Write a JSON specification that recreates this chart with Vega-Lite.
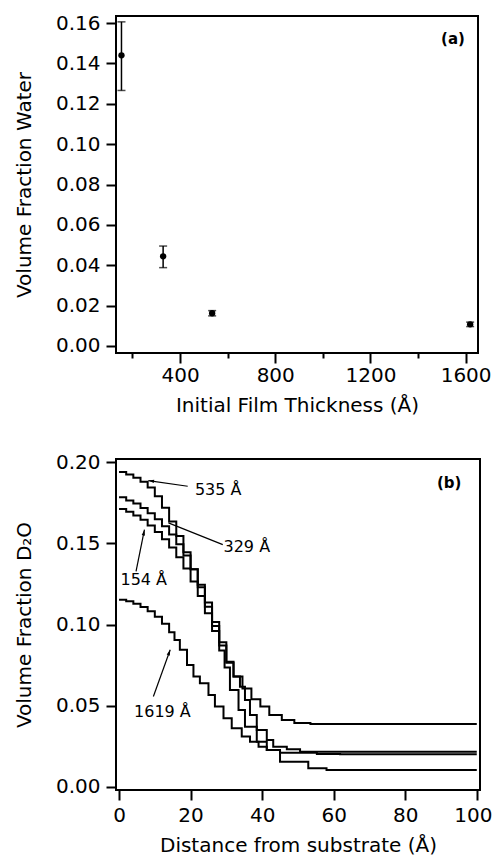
{
  "$schema": "https://vega.github.io/schema/vega-lite/v6.json",
  "background": "white",
  "padding": {"left": 13, "top": 12, "right": 0, "bottom": 0},
  "spacing": 35,
  "config": {
    "view": {"stroke": "black", "strokeWidth": 2},
    "axis": {
      "grid": false, "domain": false,
      "labelFont": "DejaVu Sans", "labelFontSize": 20, "labelColor": "black",
      "titleFont": "DejaVu Sans", "titleFontSize": 20, "titleColor": "black", "titleFontWeight": "normal",
      "tickColor": "black", "tickWidth": 2, "labelPadding": 6
    }
  },
  "datasets": {
    "water": [
      {"t": 154, "w": 0.144, "lo": 0.1266, "hi": 0.1606},
      {"t": 329, "w": 0.0444, "lo": 0.0388, "hi": 0.0495},
      {"t": 535, "w": 0.0162, "lo": 0.0149, "hi": 0.0175},
      {"t": 1619, "w": 0.0107, "lo": 0.0096, "hi": 0.0118}
    ],
    "profiles": [
      {"film": "535 Å", "d": 0, "v": 0.194},
      {"film": "535 Å", "d": 2, "v": 0.1925},
      {"film": "535 Å", "d": 4, "v": 0.1905},
      {"film": "535 Å", "d": 6, "v": 0.188},
      {"film": "535 Å", "d": 8, "v": 0.1845},
      {"film": "535 Å", "d": 10, "v": 0.179},
      {"film": "535 Å", "d": 12, "v": 0.172},
      {"film": "535 Å", "d": 14, "v": 0.1635},
      {"film": "535 Å", "d": 16, "v": 0.1545},
      {"film": "535 Å", "d": 18, "v": 0.1445},
      {"film": "535 Å", "d": 20, "v": 0.134},
      {"film": "535 Å", "d": 22, "v": 0.123},
      {"film": "535 Å", "d": 24, "v": 0.111},
      {"film": "535 Å", "d": 26, "v": 0.099},
      {"film": "535 Å", "d": 28, "v": 0.087},
      {"film": "535 Å", "d": 30, "v": 0.077},
      {"film": "535 Å", "d": 32, "v": 0.068},
      {"film": "535 Å", "d": 34.5, "v": 0.0605},
      {"film": "535 Å", "d": 37, "v": 0.054},
      {"film": "535 Å", "d": 39.5, "v": 0.0494},
      {"film": "535 Å", "d": 42, "v": 0.0443},
      {"film": "535 Å", "d": 45.5, "v": 0.0412},
      {"film": "535 Å", "d": 49, "v": 0.0393},
      {"film": "535 Å", "d": 53.5, "v": 0.0387},
      {"film": "535 Å", "d": 100, "v": 0.0387},
      {"film": "329 Å", "d": 0, "v": 0.1784},
      {"film": "329 Å", "d": 2, "v": 0.1765},
      {"film": "329 Å", "d": 4, "v": 0.1745},
      {"film": "329 Å", "d": 6, "v": 0.1718},
      {"film": "329 Å", "d": 8, "v": 0.1685},
      {"film": "329 Å", "d": 10, "v": 0.1648},
      {"film": "329 Å", "d": 12, "v": 0.1605},
      {"film": "329 Å", "d": 14, "v": 0.1555},
      {"film": "329 Å", "d": 16, "v": 0.1495},
      {"film": "329 Å", "d": 18, "v": 0.1425},
      {"film": "329 Å", "d": 20, "v": 0.134},
      {"film": "329 Å", "d": 22, "v": 0.1245},
      {"film": "329 Å", "d": 24, "v": 0.1135},
      {"film": "329 Å", "d": 26, "v": 0.1015},
      {"film": "329 Å", "d": 28, "v": 0.089},
      {"film": "329 Å", "d": 30, "v": 0.0765},
      {"film": "329 Å", "d": 32, "v": 0.068},
      {"film": "329 Å", "d": 33.8, "v": 0.0617},
      {"film": "329 Å", "d": 35.2, "v": 0.0535},
      {"film": "329 Å", "d": 36.6, "v": 0.0443},
      {"film": "329 Å", "d": 38.5, "v": 0.035},
      {"film": "329 Å", "d": 41.3, "v": 0.0288},
      {"film": "329 Å", "d": 43.1, "v": 0.0247},
      {"film": "329 Å", "d": 46.9, "v": 0.0231},
      {"film": "329 Å", "d": 50.6, "v": 0.0216},
      {"film": "329 Å", "d": 100, "v": 0.0216},
      {"film": "154 Å", "d": 0, "v": 0.1712},
      {"film": "154 Å", "d": 2, "v": 0.1695},
      {"film": "154 Å", "d": 4, "v": 0.1672},
      {"film": "154 Å", "d": 6, "v": 0.1645},
      {"film": "154 Å", "d": 8, "v": 0.161},
      {"film": "154 Å", "d": 10, "v": 0.157},
      {"film": "154 Å", "d": 12, "v": 0.1525},
      {"film": "154 Å", "d": 14, "v": 0.1475},
      {"film": "154 Å", "d": 16, "v": 0.1415},
      {"film": "154 Å", "d": 18, "v": 0.1345},
      {"film": "154 Å", "d": 20, "v": 0.1265},
      {"film": "154 Å", "d": 22, "v": 0.1175},
      {"film": "154 Å", "d": 24, "v": 0.107},
      {"film": "154 Å", "d": 26, "v": 0.096},
      {"film": "154 Å", "d": 28, "v": 0.084},
      {"film": "154 Å", "d": 29.5, "v": 0.0735},
      {"film": "154 Å", "d": 31, "v": 0.0597},
      {"film": "154 Å", "d": 33.4, "v": 0.0473},
      {"film": "154 Å", "d": 35.2, "v": 0.037},
      {"film": "154 Å", "d": 38.5, "v": 0.0278},
      {"film": "154 Å", "d": 41.3, "v": 0.0227},
      {"film": "154 Å", "d": 45, "v": 0.021},
      {"film": "154 Å", "d": 55.3, "v": 0.0202},
      {"film": "154 Å", "d": 61.8, "v": 0.02},
      {"film": "154 Å", "d": 100, "v": 0.02},
      {"film": "1619 Å", "d": 0, "v": 0.1152},
      {"film": "1619 Å", "d": 2, "v": 0.1143},
      {"film": "1619 Å", "d": 4, "v": 0.1128},
      {"film": "1619 Å", "d": 6, "v": 0.1108},
      {"film": "1619 Å", "d": 8, "v": 0.1082},
      {"film": "1619 Å", "d": 10, "v": 0.1048},
      {"film": "1619 Å", "d": 12, "v": 0.1005},
      {"film": "1619 Å", "d": 14, "v": 0.0952},
      {"film": "1619 Å", "d": 15.5, "v": 0.0905},
      {"film": "1619 Å", "d": 17, "v": 0.0844},
      {"film": "1619 Å", "d": 19, "v": 0.075},
      {"film": "1619 Å", "d": 20.8, "v": 0.0679},
      {"film": "1619 Å", "d": 22.6, "v": 0.0638},
      {"film": "1619 Å", "d": 25, "v": 0.0566},
      {"film": "1619 Å", "d": 26.8, "v": 0.0494},
      {"film": "1619 Å", "d": 29.2, "v": 0.0422},
      {"film": "1619 Å", "d": 31.5, "v": 0.036},
      {"film": "1619 Å", "d": 34.3, "v": 0.0309},
      {"film": "1619 Å", "d": 36.6, "v": 0.0278},
      {"film": "1619 Å", "d": 39, "v": 0.0247},
      {"film": "1619 Å", "d": 41.3, "v": 0.0227},
      {"film": "1619 Å", "d": 45, "v": 0.0154},
      {"film": "1619 Å", "d": 52.9, "v": 0.0114},
      {"film": "1619 Å", "d": 58, "v": 0.0103},
      {"film": "1619 Å", "d": 100, "v": 0.0103}
    ],
    "notes": [
      {"label": "535 Å", "tx": 21.2, "ty": 0.183, "d": 19.2, "v": 0.1852, "d2": 8.2, "v2": 0.1887},
      {"label": "329 Å", "tx": 29.2, "ty": 0.148, "d": 29.0, "v": 0.1492, "d2": 13.8, "v2": 0.1626},
      {"label": "154 Å", "tx": 0.4, "ty": 0.1276, "d": 4.75, "v": 0.1327, "d2": 7.1, "v2": 0.1584},
      {"label": "1619 Å", "tx": 4.2, "ty": 0.0463, "d": 9.6, "v": 0.0556, "d2": 14.3, "v2": 0.0844}
    ]
  },
  "vconcat": [
    {
      "width": 362, "height": 337,
      "data": {"name": "water"},
      "encoding": {
        "x": {"field": "t", "type": "quantitative",
          "scale": {"domain": [131, 1652], "nice": false, "zero": false},
          "axis": {"title": "Initial Film Thickness (Å)", "values": [200, 400, 600, 800, 1000, 1200, 1400, 1600],
            "labelExpr": "datum.value % 400 === 0 ? datum.label : ''", "format": "d",
            "tickSize": {"condition": {"test": "datum.value % 400 === 0", "value": 10}, "value": 5},
            "labelPadding": 2, "titlePadding": 10}}
      },
      "layer": [
        {"mark": {"type": "rule", "color": "black", "strokeWidth": 1.5},
         "encoding": {"y": {"field": "lo", "type": "quantitative",
            "scale": {"domain": [-0.0035, 0.1635], "nice": false, "zero": false},
            "axis": {"title": "Volume Fraction Water", "values": [0, 0.02, 0.04, 0.06, 0.08, 0.1, 0.12, 0.14, 0.16], "format": ".2f", "tickSize": 10, "titlePadding": 21}},
          "y2": {"field": "hi"}}},
        {"mark": {"type": "tick", "orient": "horizontal", "color": "black", "size": 8, "thickness": 1.5},
         "encoding": {"y": {"field": "lo", "type": "quantitative"}}},
        {"mark": {"type": "tick", "orient": "horizontal", "color": "black", "size": 8, "thickness": 1.5},
         "encoding": {"y": {"field": "hi", "type": "quantitative"}}},
        {"mark": {"type": "point", "filled": true, "color": "black", "size": 40, "opacity": 1},
         "encoding": {"y": {"field": "w", "type": "quantitative"}}},
        {"data": {"values": [{"t": 1547, "w": 0.152, "tag": "(a)"}]},
         "mark": {"type": "text", "font": "DejaVu Sans", "fontSize": 15, "fontWeight": "bold", "color": "black"},
         "encoding": {"y": {"field": "w", "type": "quantitative"}, "text": {"field": "tag"}}}
      ]
    },
    {
      "width": 364, "height": 331,
      "encoding": {
        "x": {"field": "d", "type": "quantitative",
          "scale": {"domain": [-0.85, 100.9], "nice": false, "zero": false},
          "axis": {"title": "Distance from substrate (Å)", "values": [0, 20, 40, 60, 80, 100], "tickSize": 10, "labelPadding": 5, "titlePadding": 10,
            "labelOffset": {"condition": {"test": "datum.value === 100", "value": -4}, "value": 0}}},
        "y": {"field": "v", "type": "quantitative",
          "scale": {"domain": [-0.002, 0.202], "nice": false, "zero": false},
          "axis": {"title": "Volume Fraction D₂O", "values": [0, 0.05, 0.1, 0.15, 0.2], "format": ".2f", "tickSize": 10, "titlePadding": 21}}
      },
      "layer": [
        {"data": {"name": "profiles"},
         "mark": {"type": "line", "interpolate": "step-after", "color": "black", "strokeWidth": 2},
         "encoding": {"detail": {"field": "film"}}},
        {"data": {"name": "notes"},
         "mark": {"type": "rule", "color": "black", "strokeWidth": 1.2},
         "encoding": {"x2": {"field": "d2"}, "y2": {"field": "v2"}}},
        {"data": {"name": "notes"},
         "mark": {"type": "text", "align": "left", "baseline": "middle", "font": "DejaVu Sans", "fontSize": 16, "color": "black"},
         "encoding": {"x": {"field": "tx", "type": "quantitative"}, "y": {"field": "ty", "type": "quantitative"}, "text": {"field": "label"}}},
        {"data": {"name": "notes"},
         "transform": [{"filter": "datum.label === '535 Å'"}],
         "mark": {"type": "point", "shape": "M0,0L0.35,1.2L-0.35,1.2Z", "filled": true, "color": "black", "opacity": 1, "size": 90, "angle": 278},
         "encoding": {"x": {"field": "d2", "type": "quantitative"}, "y": {"field": "v2", "type": "quantitative"}}},
        {"data": {"name": "notes"},
         "transform": [{"filter": "datum.label === '154 Å'"}],
         "mark": {"type": "point", "shape": "M0,0L0.35,1.2L-0.35,1.2Z", "filled": true, "color": "black", "opacity": 1, "size": 90, "angle": 11},
         "encoding": {"x": {"field": "d2", "type": "quantitative"}, "y": {"field": "v2", "type": "quantitative"}}},
        {"data": {"name": "notes"},
         "transform": [{"filter": "datum.label === '1619 Å'"}],
         "mark": {"type": "point", "shape": "M0,0L0.35,1.2L-0.35,1.2Z", "filled": true, "color": "black", "opacity": 1, "size": 90, "angle": 20},
         "encoding": {"x": {"field": "d2", "type": "quantitative"}, "y": {"field": "v2", "type": "quantitative"}}},
        {"data": {"values": [{"d": 92.3, "v": 0.187, "tag": "(b)"}]},
         "mark": {"type": "text", "font": "DejaVu Sans", "fontSize": 15, "fontWeight": "bold", "color": "black"},
         "encoding": {"text": {"field": "tag"}}}
      ]
    }
  ]
}
